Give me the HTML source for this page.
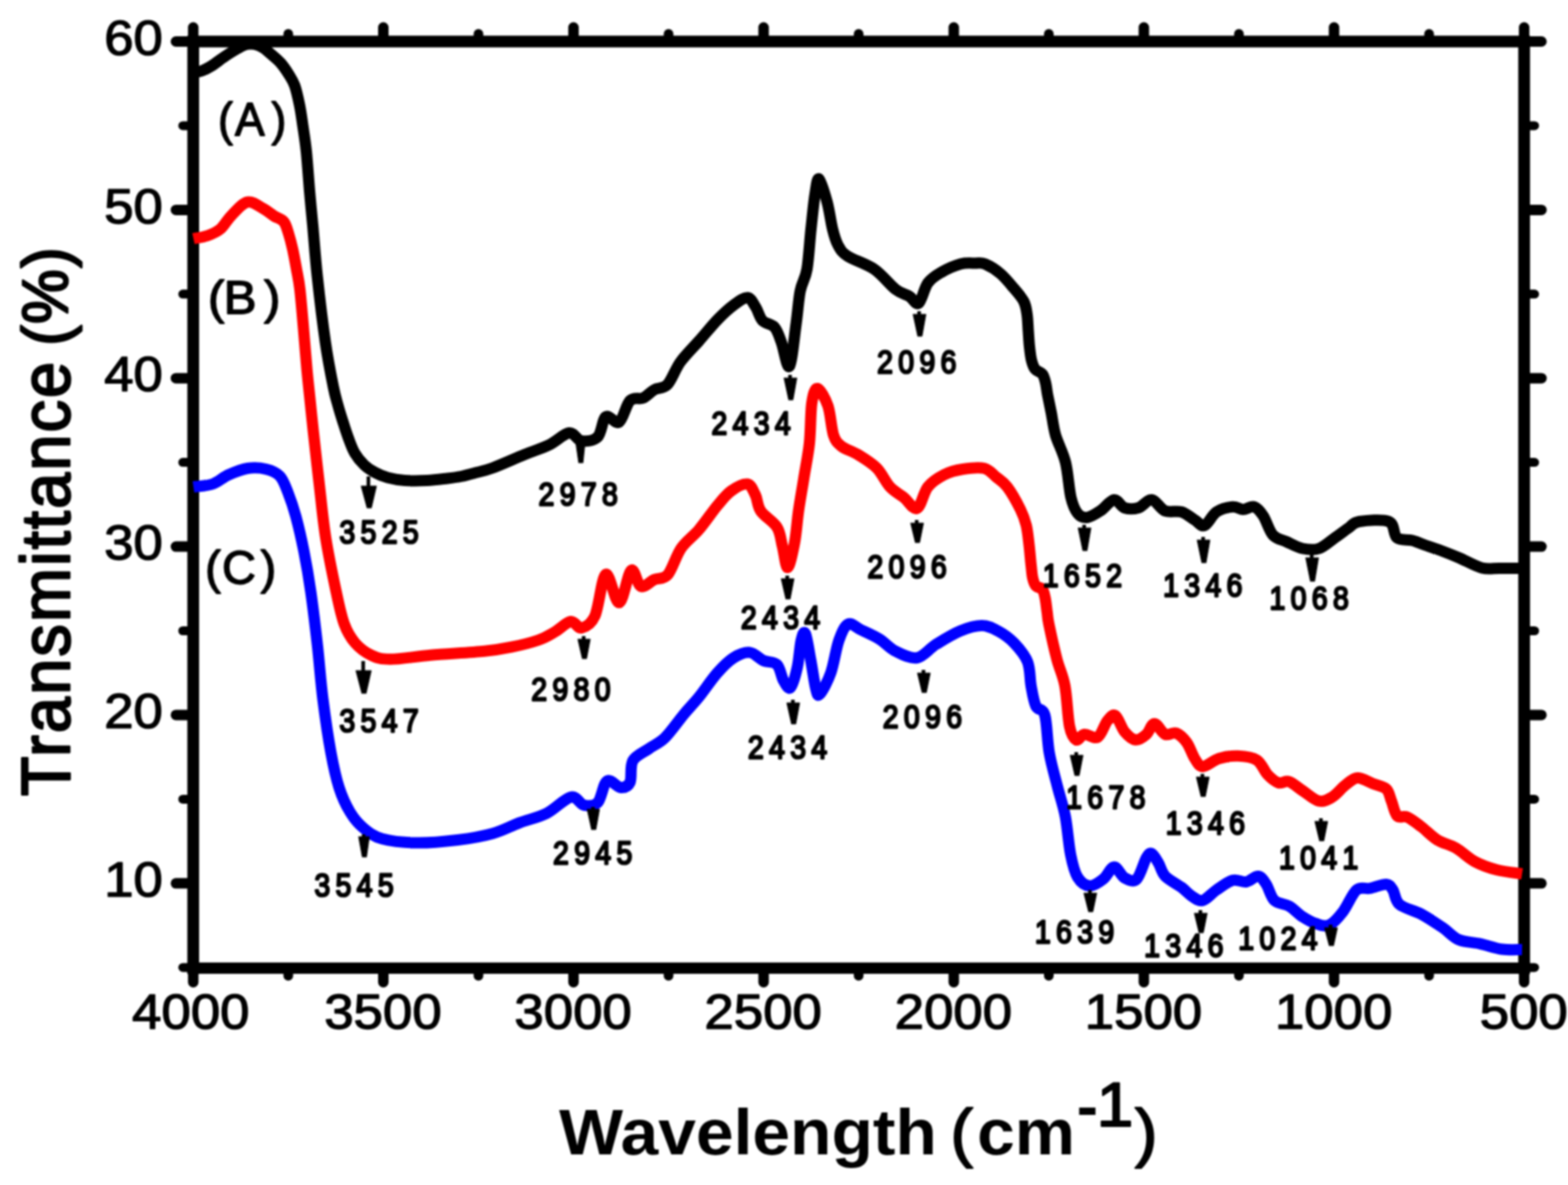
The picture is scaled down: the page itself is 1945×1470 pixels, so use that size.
<!DOCTYPE html>
<html lang="en"><head><meta charset="utf-8"><title>FTIR transmittance spectra</title>
<style>
html,body{margin:0;padding:0;background:#fff;}
body{width:1945px;height:1470px;overflow:hidden;}
svg{display:block;filter:blur(0.8px);}
text{font-family:"Liberation Sans",Arial,Helvetica,sans-serif;fill:#000;}
.tick{font-size:61.5px;stroke:#000;stroke-width:1.5px;stroke-linejoin:round;}
.pk{font-size:40px;font-weight:normal;letter-spacing:7.6px;stroke:#000;stroke-width:2.7px;stroke-linejoin:round;}
.lab{font-size:58px;stroke:#000;stroke-width:1.8px;stroke-linejoin:round;}
.ttl{font-size:79px;font-weight:bold;}
.thin{font-weight:normal;stroke:#000;stroke-width:2.2px;stroke-linejoin:round;}
</style></head><body>
<svg width="1945" height="1470" viewBox="0 0 1945 1470" role="img" aria-label="FTIR transmittance spectra of samples A, B and C">
<rect width="1945" height="1470" fill="#fff"/>
<g stroke="#000" fill="none" stroke-linecap="round">
<path d="M239.7 51.5V1201.0M1890.6 51.5V1201.0M239.7 51.5H1890.6" stroke-width="14.6" stroke-linecap="square"/>
<path d="M239.7 1201.0H1890.6" stroke-width="14.0" stroke-linecap="square"/>
<line x1="239.7" y1="51.5" x2="239.7" y2="34.0" stroke-width="13"/>
<line x1="239.7" y1="1201.0" x2="239.7" y2="1218.5" stroke-width="13"/>
<line x1="357.6" y1="51.5" x2="357.6" y2="42.0" stroke-width="12"/>
<line x1="357.6" y1="1201.0" x2="357.6" y2="1210.5" stroke-width="12"/>
<line x1="475.5" y1="51.5" x2="475.5" y2="34.0" stroke-width="13"/>
<line x1="475.5" y1="1201.0" x2="475.5" y2="1218.5" stroke-width="13"/>
<line x1="593.5" y1="51.5" x2="593.5" y2="42.0" stroke-width="12"/>
<line x1="593.5" y1="1201.0" x2="593.5" y2="1210.5" stroke-width="12"/>
<line x1="711.4" y1="51.5" x2="711.4" y2="34.0" stroke-width="13"/>
<line x1="711.4" y1="1201.0" x2="711.4" y2="1218.5" stroke-width="13"/>
<line x1="829.3" y1="51.5" x2="829.3" y2="42.0" stroke-width="12"/>
<line x1="829.3" y1="1201.0" x2="829.3" y2="1210.5" stroke-width="12"/>
<line x1="947.2" y1="51.5" x2="947.2" y2="34.0" stroke-width="13"/>
<line x1="947.2" y1="1201.0" x2="947.2" y2="1218.5" stroke-width="13"/>
<line x1="1065.1" y1="51.5" x2="1065.1" y2="42.0" stroke-width="12"/>
<line x1="1065.1" y1="1201.0" x2="1065.1" y2="1210.5" stroke-width="12"/>
<line x1="1183.1" y1="51.5" x2="1183.1" y2="34.0" stroke-width="13"/>
<line x1="1183.1" y1="1201.0" x2="1183.1" y2="1218.5" stroke-width="13"/>
<line x1="1301.0" y1="51.5" x2="1301.0" y2="42.0" stroke-width="12"/>
<line x1="1301.0" y1="1201.0" x2="1301.0" y2="1210.5" stroke-width="12"/>
<line x1="1418.9" y1="51.5" x2="1418.9" y2="34.0" stroke-width="13"/>
<line x1="1418.9" y1="1201.0" x2="1418.9" y2="1218.5" stroke-width="13"/>
<line x1="1536.8" y1="51.5" x2="1536.8" y2="42.0" stroke-width="12"/>
<line x1="1536.8" y1="1201.0" x2="1536.8" y2="1210.5" stroke-width="12"/>
<line x1="1654.8" y1="51.5" x2="1654.8" y2="34.0" stroke-width="13"/>
<line x1="1654.8" y1="1201.0" x2="1654.8" y2="1218.5" stroke-width="13"/>
<line x1="1772.7" y1="51.5" x2="1772.7" y2="42.0" stroke-width="12"/>
<line x1="1772.7" y1="1201.0" x2="1772.7" y2="1210.5" stroke-width="12"/>
<line x1="1890.6" y1="51.5" x2="1890.6" y2="34.0" stroke-width="13"/>
<line x1="1890.6" y1="1201.0" x2="1890.6" y2="1218.5" stroke-width="13"/>
<line x1="239.7" y1="51.5" x2="218.2" y2="51.5" stroke-width="13"/>
<line x1="1890.6" y1="51.5" x2="1912.1" y2="51.5" stroke-width="13"/>
<line x1="239.7" y1="155.9" x2="226.7" y2="155.9" stroke-width="11"/>
<line x1="1890.6" y1="155.9" x2="1903.6" y2="155.9" stroke-width="11"/>
<line x1="239.7" y1="260.4" x2="218.2" y2="260.4" stroke-width="13"/>
<line x1="1890.6" y1="260.4" x2="1912.1" y2="260.4" stroke-width="13"/>
<line x1="239.7" y1="364.8" x2="226.7" y2="364.8" stroke-width="11"/>
<line x1="1890.6" y1="364.8" x2="1903.6" y2="364.8" stroke-width="11"/>
<line x1="239.7" y1="469.2" x2="218.2" y2="469.2" stroke-width="13"/>
<line x1="1890.6" y1="469.2" x2="1912.1" y2="469.2" stroke-width="13"/>
<line x1="239.7" y1="573.6" x2="226.7" y2="573.6" stroke-width="11"/>
<line x1="1890.6" y1="573.6" x2="1903.6" y2="573.6" stroke-width="11"/>
<line x1="239.7" y1="678.1" x2="218.2" y2="678.1" stroke-width="13"/>
<line x1="1890.6" y1="678.1" x2="1912.1" y2="678.1" stroke-width="13"/>
<line x1="239.7" y1="782.5" x2="226.7" y2="782.5" stroke-width="11"/>
<line x1="1890.6" y1="782.5" x2="1903.6" y2="782.5" stroke-width="11"/>
<line x1="239.7" y1="886.9" x2="218.2" y2="886.9" stroke-width="13"/>
<line x1="1890.6" y1="886.9" x2="1912.1" y2="886.9" stroke-width="13"/>
<line x1="239.7" y1="991.4" x2="226.7" y2="991.4" stroke-width="11"/>
<line x1="1890.6" y1="991.4" x2="1903.6" y2="991.4" stroke-width="11"/>
<line x1="239.7" y1="1095.8" x2="218.2" y2="1095.8" stroke-width="13"/>
<line x1="1890.6" y1="1095.8" x2="1912.1" y2="1095.8" stroke-width="13"/>
<line x1="239.7" y1="1200.2" x2="226.7" y2="1200.2" stroke-width="11"/>
<line x1="1890.6" y1="1200.2" x2="1903.6" y2="1200.2" stroke-width="11"/>
</g>
<g fill="none" stroke-width="14.0" stroke-linejoin="round" stroke-linecap="butt">
<path stroke="#0000ff" d="M240.0 604.0C243.9 603.4 256.2 603.0 263.5 600.5C270.8 598.0 276.2 592.2 283.5 589.0C290.8 585.8 299.2 582.2 307.0 581.0C314.8 579.8 323.3 580.4 330.0 582.0C336.7 583.6 342.5 585.8 347.0 590.5C351.5 595.2 353.7 602.1 357.0 610.5C360.3 618.9 363.7 628.4 367.0 640.6C370.3 652.9 373.9 668.4 377.0 684.0C380.1 699.6 382.7 714.5 385.5 734.0C388.3 753.5 391.3 778.8 393.8 801.0C396.3 823.2 397.7 844.9 400.5 867.0C403.3 889.1 407.1 915.4 410.5 933.7C413.9 952.0 416.7 964.8 420.6 977.0C424.5 989.2 429.0 998.7 434.0 1007.0C439.0 1015.3 444.0 1021.4 450.7 1027.0C457.4 1032.6 462.9 1037.5 474.0 1040.6C485.1 1043.7 501.9 1045.4 517.5 1045.6C533.1 1045.8 552.0 1043.9 567.6 1042.0C583.2 1040.1 598.2 1037.6 611.0 1034.0C623.8 1030.4 633.3 1024.8 644.5 1020.6C655.7 1016.4 667.4 1014.3 678.0 1009.0C688.6 1003.7 700.2 990.5 708.0 988.8C715.8 987.1 719.1 997.8 724.7 998.9C730.3 1000.0 736.8 1000.5 741.5 995.5C746.2 990.5 748.2 971.9 753.0 968.8C757.8 965.7 765.2 976.7 770.0 977.0C774.8 977.3 779.0 976.0 781.5 970.5C784.0 965.0 781.1 950.7 785.0 943.7C788.9 936.7 798.3 933.5 805.0 928.7C811.7 923.9 817.8 922.1 825.0 915.0C832.2 907.9 841.4 894.4 848.4 886.0C855.4 877.6 860.1 873.2 867.0 864.6C873.9 856.0 882.8 842.6 890.0 834.5C897.2 826.4 903.3 820.2 910.0 816.0C916.7 811.8 923.8 808.8 930.0 809.4C936.2 810.0 941.4 817.0 947.0 819.5C952.6 822.0 959.6 820.3 963.8 824.5C968.0 828.7 969.2 839.8 972.0 844.5C974.8 849.2 977.7 855.8 980.5 853.0C983.3 850.2 986.8 837.6 989.0 827.8C991.2 818.0 992.1 801.4 993.8 794.4C995.5 787.4 997.0 782.1 999.0 786.0C1001.0 789.9 1003.3 806.4 1005.5 817.8C1007.7 829.2 1010.1 847.3 1012.0 854.5C1013.9 861.7 1013.9 864.3 1017.0 861.0C1020.1 857.7 1026.7 845.6 1030.6 834.5C1034.5 823.4 1037.0 804.4 1040.6 794.4C1044.2 784.4 1047.5 776.5 1052.0 774.3C1056.5 772.1 1060.9 777.9 1067.4 781.0C1073.9 784.1 1083.6 788.2 1090.8 792.7C1098.0 797.2 1103.0 803.9 1110.8 807.8C1118.6 811.7 1129.2 817.4 1137.6 816.0C1146.0 814.6 1152.1 804.9 1161.0 799.4C1169.9 793.9 1181.5 786.6 1191.0 782.7C1200.5 778.8 1210.0 776.0 1217.8 776.0C1225.6 776.0 1231.1 779.1 1237.8 782.7C1244.5 786.3 1251.8 791.3 1257.9 797.7C1264.0 804.1 1271.1 812.1 1274.6 821.0C1278.1 829.9 1277.3 841.8 1279.0 851.0C1280.7 860.2 1282.2 870.0 1285.0 876.0C1287.8 882.0 1293.2 877.4 1296.0 887.0C1298.8 896.6 1298.9 918.9 1301.5 933.6C1304.1 948.3 1308.2 961.8 1311.5 975.0C1314.8 988.2 1318.8 998.8 1321.5 1013.0C1324.2 1027.2 1325.5 1047.5 1328.0 1060.0C1330.5 1072.5 1332.6 1081.5 1336.6 1088.0C1340.5 1094.5 1346.4 1098.6 1351.7 1099.0C1357.0 1099.4 1363.5 1094.5 1368.5 1090.6C1373.5 1086.7 1377.6 1075.9 1382.0 1075.6C1386.4 1075.3 1390.3 1086.5 1395.0 1089.0C1399.7 1091.5 1405.5 1094.8 1410.0 1090.6C1414.5 1086.4 1418.9 1069.3 1422.0 1064.0C1425.1 1058.7 1426.2 1057.9 1428.7 1059.0C1431.2 1060.1 1434.2 1065.9 1437.0 1070.6C1439.8 1075.3 1440.7 1082.0 1445.4 1087.0C1450.2 1092.0 1459.9 1096.5 1465.5 1100.7C1471.1 1104.9 1474.4 1109.3 1478.8 1112.0C1483.2 1114.7 1487.0 1118.3 1492.0 1117.0C1497.0 1115.7 1502.8 1108.2 1509.0 1104.0C1515.2 1099.8 1522.9 1093.7 1529.0 1092.0C1535.1 1090.3 1540.4 1094.8 1545.7 1094.0C1551.0 1093.2 1556.5 1086.5 1560.7 1087.0C1564.9 1087.5 1567.4 1092.0 1570.7 1097.0C1574.0 1102.0 1576.1 1112.5 1580.8 1117.0C1585.5 1121.5 1593.1 1120.6 1599.0 1124.0C1604.9 1127.4 1610.4 1133.8 1616.0 1137.4C1621.6 1141.0 1627.1 1144.1 1632.6 1145.8C1638.1 1147.5 1643.4 1150.0 1649.0 1147.5C1654.6 1145.0 1660.4 1138.0 1666.0 1130.7C1671.6 1123.5 1677.1 1108.8 1682.7 1104.0C1688.3 1099.2 1693.3 1103.2 1699.4 1102.0C1705.5 1100.8 1714.8 1096.7 1719.5 1097.0C1724.2 1097.3 1725.0 1099.8 1727.8 1104.0C1730.5 1108.2 1730.1 1117.0 1736.0 1122.0C1741.9 1127.0 1754.1 1129.2 1763.0 1134.0C1771.9 1138.8 1781.8 1145.5 1789.6 1150.8C1797.4 1156.1 1801.9 1162.5 1809.7 1165.8C1817.5 1169.1 1827.5 1168.8 1836.4 1170.8C1845.3 1172.8 1854.4 1176.3 1863.0 1177.5C1871.6 1178.7 1883.8 1177.9 1888.0 1178.0"/>
<path stroke="#ff0000" d="M240.0 296.0C242.8 295.4 251.4 294.5 257.0 292.5C262.6 290.5 268.5 288.2 273.5 284.0C278.5 279.8 281.4 272.9 287.0 267.4C292.6 261.8 300.3 252.1 307.0 250.7C313.7 249.3 321.5 256.1 327.0 259.0C332.5 261.9 335.8 265.3 340.0 268.0C344.2 270.7 349.0 271.3 352.0 275.0C355.0 278.7 356.2 284.3 358.0 290.0C359.8 295.7 361.3 301.5 363.0 309.0C364.7 316.5 366.5 326.7 368.0 335.0C369.5 343.3 370.6 346.8 372.0 359.0C373.4 371.2 375.1 391.7 376.5 408.0C377.9 424.3 379.2 441.7 380.6 457.0C382.0 472.3 383.7 487.2 385.0 500.0C386.3 512.8 386.7 517.0 388.5 533.7C390.3 550.5 393.4 578.3 396.0 600.5C398.6 622.7 400.5 644.8 404.0 667.0C407.5 689.2 413.2 716.2 417.0 734.0C420.8 751.8 423.1 763.4 427.0 774.0C430.9 784.6 435.0 791.2 440.6 797.7C446.2 804.2 453.5 809.4 460.7 812.8C467.9 816.1 471.8 817.8 484.0 817.8C496.2 817.8 514.5 814.5 534.0 812.8C553.5 811.1 584.2 809.5 601.0 807.8C617.8 806.1 623.3 805.0 634.5 802.7C645.7 800.4 659.1 797.1 668.0 794.0C676.9 790.9 681.3 787.8 688.0 784.0C694.7 780.2 702.4 771.8 708.0 771.0C713.6 770.2 716.4 780.2 721.4 779.0C726.4 777.8 733.0 775.1 738.0 764.0C743.0 752.9 746.5 715.2 751.5 712.5C756.5 709.8 762.8 748.4 768.0 747.6C773.2 746.8 778.5 710.9 783.0 707.5C787.5 704.1 790.2 725.6 795.0 727.5C799.8 729.4 806.1 721.4 811.6 719.0C817.1 716.6 822.7 719.5 828.3 713.0C833.9 706.5 838.5 689.3 845.0 680.0C851.5 670.7 859.5 665.8 867.0 657.0C874.5 648.2 883.3 635.0 890.0 627.0C896.7 619.0 900.8 613.4 907.0 609.0C913.2 604.6 922.0 599.7 927.0 600.5C932.0 601.3 934.2 608.4 937.0 614.0C939.8 619.6 939.2 627.3 943.7 634.0C948.2 640.7 959.3 646.8 963.8 654.0C968.3 661.2 968.3 669.1 970.5 677.4C972.7 685.7 974.5 704.6 977.0 704.0C979.5 703.4 983.2 685.7 985.5 674.0C987.8 662.3 988.6 647.4 990.5 634.0C992.4 620.6 994.8 607.8 997.0 593.8C999.2 579.8 1002.3 565.6 1004.0 550.0C1005.7 534.4 1005.3 511.3 1007.0 500.0C1008.7 488.7 1010.7 481.4 1014.0 482.0C1017.3 482.6 1023.7 493.9 1027.0 503.6C1030.3 513.3 1031.2 531.6 1034.0 540.0C1036.8 548.4 1039.0 549.7 1044.0 553.7C1049.0 557.7 1056.8 559.3 1064.0 563.8C1071.2 568.3 1080.7 573.8 1087.4 580.5C1094.1 587.2 1098.4 597.9 1104.0 604.0C1109.6 610.1 1115.4 612.6 1121.0 617.0C1126.6 621.4 1132.6 632.8 1137.6 630.6C1142.6 628.4 1145.4 610.9 1151.0 604.0C1156.6 597.1 1163.8 592.7 1171.0 589.0C1178.2 585.3 1186.1 583.3 1194.4 582.0C1202.7 580.7 1214.1 579.3 1221.0 581.0C1227.9 582.7 1231.3 588.2 1236.0 592.0C1240.7 595.8 1244.4 597.3 1249.4 604.0C1254.4 610.7 1261.9 624.1 1265.8 632.0C1269.7 639.9 1271.2 644.3 1273.0 651.6C1274.8 658.9 1275.5 667.8 1276.5 676.0C1277.5 684.2 1278.2 694.2 1279.0 701.0C1279.8 707.8 1280.0 712.7 1281.0 717.0C1282.0 721.3 1283.0 724.7 1285.0 727.0C1287.0 729.3 1291.1 728.5 1293.0 731.0C1294.9 733.5 1295.5 737.2 1296.5 742.0C1297.5 746.8 1298.2 754.7 1299.0 760.0C1299.8 765.3 1299.0 764.4 1301.0 774.0C1303.0 783.6 1307.7 805.0 1311.0 817.8C1314.3 830.6 1318.4 837.1 1321.0 851.0C1323.6 864.9 1324.4 889.9 1326.7 901.0C1329.0 912.1 1332.0 916.1 1335.0 917.8C1338.0 919.5 1340.5 911.6 1345.0 911.0C1349.5 910.4 1357.0 917.2 1361.8 914.4C1366.5 911.6 1369.9 898.8 1373.5 894.4C1377.1 890.0 1380.0 885.5 1383.6 887.7C1387.2 889.9 1390.8 902.7 1395.0 907.7C1399.2 912.7 1404.1 917.2 1408.6 917.8C1413.1 918.3 1418.1 914.4 1422.0 911.0C1425.9 907.6 1428.1 897.7 1432.0 897.7C1435.9 897.7 1440.9 909.0 1445.4 911.0C1449.9 913.0 1454.4 907.7 1458.8 909.4C1463.2 911.1 1468.1 915.7 1472.0 921.0C1475.9 926.3 1478.7 936.0 1482.0 941.0C1485.3 946.0 1487.0 951.0 1492.0 951.0C1497.0 951.0 1504.7 943.2 1512.0 941.0C1519.3 938.8 1527.8 937.5 1535.6 937.8C1543.4 938.1 1552.9 938.9 1559.0 942.8C1565.1 946.7 1567.9 956.3 1572.4 961.0C1576.9 965.7 1581.4 969.6 1585.8 971.0C1590.2 972.4 1594.0 967.9 1599.0 969.6C1604.0 971.3 1609.8 977.0 1616.0 981.0C1622.2 985.0 1629.9 992.4 1636.0 993.7C1642.1 995.0 1647.1 992.0 1652.6 988.7C1658.1 985.4 1663.8 977.7 1669.0 973.7C1674.2 969.8 1678.4 965.3 1684.0 965.0C1689.6 964.7 1696.8 969.7 1702.7 972.0C1708.6 974.3 1715.6 975.1 1719.5 978.7C1723.4 982.3 1723.8 988.2 1726.0 993.7C1728.2 999.2 1729.7 1008.6 1733.0 1012.0C1736.3 1015.4 1741.0 1011.5 1746.0 1013.8C1751.0 1016.0 1756.8 1020.8 1763.0 1025.5C1769.2 1030.2 1775.8 1037.6 1783.0 1042.0C1790.2 1046.4 1798.2 1047.5 1806.0 1052.0C1813.8 1056.5 1821.4 1064.5 1829.8 1069.0C1838.2 1073.5 1846.8 1076.5 1856.5 1079.0C1866.2 1081.5 1882.8 1083.2 1888.0 1084.0"/>
<path stroke="#000000" d="M240.0 90.0C241.7 89.7 246.3 89.3 250.0 88.0C253.7 86.7 257.2 85.0 262.0 82.0C266.8 79.0 273.5 73.7 279.0 70.0C284.5 66.3 290.5 62.5 295.0 60.0C299.5 57.5 302.5 55.8 306.0 55.0C309.5 54.2 312.7 54.3 316.0 55.0C319.3 55.7 322.7 57.0 326.0 59.0C329.3 61.0 332.3 63.8 336.0 67.0C339.7 70.2 344.3 73.8 348.0 78.0C351.7 82.2 355.1 87.3 358.0 92.0C360.9 96.7 363.2 99.7 365.5 106.0C367.8 112.3 369.8 121.8 371.5 130.0C373.2 138.2 374.1 145.3 375.5 155.0C376.9 164.7 378.6 174.3 380.0 188.0C381.4 201.7 382.7 221.7 384.0 237.0C385.3 252.3 386.4 262.5 388.0 280.0C389.6 297.5 390.9 317.9 393.5 342.0C396.1 366.1 400.3 401.5 403.6 424.5C406.9 447.5 410.9 467.1 413.5 480.0C416.1 492.9 417.1 495.0 419.0 502.0C420.9 509.0 422.8 515.2 425.0 522.0C427.2 528.8 429.5 536.3 432.0 543.0C434.5 549.7 436.7 556.3 440.0 562.0C443.3 567.7 447.8 573.0 452.0 577.0C456.2 581.0 460.2 583.4 465.0 586.0C469.8 588.6 474.8 590.9 481.0 592.6C487.2 594.3 493.8 595.4 502.0 596.0C510.2 596.6 521.2 596.4 530.0 596.0C538.8 595.6 548.0 594.3 555.0 593.5C562.0 592.7 566.5 592.1 572.0 591.0C577.5 589.9 581.5 588.8 588.0 587.0C594.5 585.2 600.5 584.4 611.0 580.5C621.5 576.6 639.3 568.5 651.0 563.8C662.7 559.0 671.8 556.5 681.0 552.0C690.2 547.5 699.3 537.8 706.0 537.0C712.7 536.2 715.5 546.2 721.4 547.0C727.3 547.8 736.4 547.0 741.4 542.0C746.4 537.0 747.1 520.1 751.5 517.0C755.9 513.9 763.0 526.9 768.0 523.6C773.0 520.3 776.5 502.0 781.5 497.0C786.5 492.0 793.0 495.9 798.0 493.6C803.0 491.4 806.6 486.3 811.6 483.5C816.6 480.7 822.6 482.8 828.0 477.0C833.4 471.2 837.5 458.0 844.0 449.0C850.5 440.0 859.2 431.8 867.0 423.0C874.8 414.2 883.3 403.5 890.6 396.0C897.9 388.5 904.6 382.4 910.7 378.0C916.8 373.6 923.0 368.8 927.4 369.3C931.8 369.8 934.3 376.3 937.4 381.0C940.5 385.7 941.9 393.5 945.8 397.7C949.7 401.9 956.9 401.5 960.8 406.0C964.7 410.5 966.1 416.4 969.2 424.5C972.3 432.6 976.1 458.4 979.2 454.5C982.3 450.6 985.4 416.6 987.6 401.0C989.8 385.4 990.4 372.2 992.6 361.0C994.8 349.8 998.8 346.8 1001.0 334.0C1003.2 321.2 1004.3 299.6 1006.0 284.0C1007.7 268.4 1009.3 250.9 1011.0 240.6C1012.7 230.3 1013.5 220.3 1016.0 222.0C1018.5 223.7 1023.2 240.4 1026.0 250.7C1028.8 261.0 1030.5 275.1 1032.7 284.0C1034.9 292.9 1036.4 298.4 1039.4 304.0C1042.5 309.6 1043.5 312.5 1051.0 317.5C1058.5 322.5 1074.5 327.1 1084.5 334.0C1094.5 340.9 1103.8 353.4 1111.0 359.0C1118.2 364.6 1123.2 364.8 1128.0 367.6C1132.8 370.4 1135.8 378.8 1139.6 376.0C1143.4 373.2 1146.3 357.4 1151.0 351.0C1155.7 344.6 1161.3 341.5 1168.0 337.6C1174.7 333.7 1184.4 329.4 1191.4 327.5C1198.4 325.6 1204.9 326.5 1210.0 326.5C1215.1 326.5 1216.8 325.3 1222.0 327.5C1227.2 329.7 1235.1 334.5 1241.0 339.5C1246.9 344.5 1252.8 351.9 1257.6 357.6C1262.4 363.4 1267.3 368.6 1270.0 374.0C1272.7 379.4 1273.1 384.0 1274.0 390.0C1274.9 396.0 1275.0 403.3 1275.5 410.0C1276.0 416.7 1276.3 423.8 1277.0 430.0C1277.7 436.2 1278.3 442.3 1279.5 447.0C1280.7 451.7 1281.8 455.2 1284.0 458.0C1286.2 460.8 1290.8 461.2 1293.0 464.0C1295.2 466.8 1295.9 470.7 1297.0 475.0C1298.1 479.3 1298.3 483.8 1299.5 490.0C1300.7 496.2 1302.3 503.7 1304.0 512.0C1305.7 520.3 1306.5 529.8 1309.4 540.0C1312.4 550.2 1318.5 560.7 1321.7 573.5C1324.9 586.3 1325.9 606.4 1328.4 617.0C1330.9 627.6 1333.5 632.8 1336.8 637.0C1340.1 641.2 1343.8 642.5 1348.5 642.0C1353.2 641.5 1359.4 637.4 1365.0 633.7C1370.6 630.0 1377.0 620.6 1382.0 620.0C1387.0 619.4 1390.0 628.3 1395.0 630.0C1400.0 631.7 1406.4 631.7 1412.0 630.0C1417.6 628.3 1423.2 619.4 1428.7 620.0C1434.2 620.6 1438.9 631.2 1445.0 633.7C1451.1 636.2 1459.3 633.1 1465.5 635.0C1471.7 636.9 1477.2 642.2 1482.0 645.0C1486.8 647.8 1489.5 653.7 1494.0 652.0C1498.5 650.3 1503.2 638.9 1509.0 635.0C1514.8 631.1 1523.5 629.2 1529.0 628.7C1534.5 628.2 1537.5 632.0 1542.0 632.0C1546.5 632.0 1551.5 627.4 1555.7 628.7C1559.9 630.0 1563.1 634.1 1567.0 640.0C1570.9 645.9 1574.2 658.5 1579.0 663.8C1583.8 669.1 1589.6 669.2 1595.8 672.0C1602.0 674.8 1609.3 679.1 1616.0 680.5C1622.7 681.9 1629.3 682.8 1636.0 680.5C1642.7 678.2 1649.9 671.2 1656.0 667.0C1662.1 662.8 1667.7 658.3 1672.7 655.0C1677.7 651.7 1677.7 648.3 1686.0 647.0C1694.3 645.7 1715.0 643.7 1722.8 647.0C1730.6 650.3 1727.9 663.1 1732.8 667.0C1737.7 670.9 1745.8 668.8 1752.0 670.5C1758.2 672.2 1763.7 674.8 1770.0 677.0C1776.3 679.2 1783.3 681.5 1790.0 684.0C1796.7 686.5 1802.0 688.6 1810.0 692.0C1818.0 695.4 1829.7 702.3 1838.0 704.5C1846.3 706.7 1851.7 704.9 1860.0 705.0C1868.3 705.1 1883.3 705.0 1888.0 705.0"/>
</g>
<g>
<path d="M457.0 591.0 V605.0" stroke="#000" stroke-width="4.5" fill="none"/><path d="M448.2 603.0 H466.8 L460.5 630.0 H455.5 Z" fill="#000" stroke="#000" stroke-width="1.2" stroke-linejoin="round"/>
<path d="M719.5 547.0 V552.0" stroke="#000" stroke-width="4.5" fill="none"/><path d="M714.5 550.0 H725.5 L723.0 574.0 H718.0 Z" fill="#000" stroke="#000" stroke-width="1.2" stroke-linejoin="round"/>
<path d="M980.0 465.0 V471.0" stroke="#000" stroke-width="4.5" fill="none"/><path d="M972.7 469.0 H988.3 L983.5 496.0 H978.5 Z" fill="#000" stroke="#000" stroke-width="1.2" stroke-linejoin="round"/>
<path d="M1140.1 386.0 V392.0" stroke="#000" stroke-width="4.5" fill="none"/><path d="M1132.8 390.0 H1148.4 L1143.6 417.0 H1138.6 Z" fill="#000" stroke="#000" stroke-width="1.2" stroke-linejoin="round"/>
<path d="M1344.8 651.0 V657.0" stroke="#000" stroke-width="4.5" fill="none"/><path d="M1337.5 655.0 H1353.1 L1348.3 683.0 H1343.3 Z" fill="#000" stroke="#000" stroke-width="1.2" stroke-linejoin="round"/>
<path d="M1492.4 666.0 V672.0" stroke="#000" stroke-width="4.5" fill="none"/><path d="M1485.1 670.0 H1500.7 L1495.9 698.0 H1490.9 Z" fill="#000" stroke="#000" stroke-width="1.2" stroke-linejoin="round"/>
<path d="M1627.1 688.0 V694.0" stroke="#000" stroke-width="4.5" fill="none"/><path d="M1619.8 692.0 H1635.4 L1630.6 721.0 H1625.6 Z" fill="#000" stroke="#000" stroke-width="1.2" stroke-linejoin="round"/>
<path d="M450.5 820.0 V834.0" stroke="#000" stroke-width="4.5" fill="none"/><path d="M441.7 832.0 H460.3 L454.0 860.0 H449.0 Z" fill="#000" stroke="#000" stroke-width="1.2" stroke-linejoin="round"/>
<path d="M724.0 789.0 V795.0" stroke="#000" stroke-width="4.5" fill="none"/><path d="M717.0 793.0 H732.0 L727.5 817.0 H722.5 Z" fill="#000" stroke="#000" stroke-width="1.2" stroke-linejoin="round"/>
<path d="M976.5 714.0 V720.0" stroke="#000" stroke-width="4.5" fill="none"/><path d="M969.2 718.0 H984.8 L980.0 743.0 H975.0 Z" fill="#000" stroke="#000" stroke-width="1.2" stroke-linejoin="round"/>
<path d="M1137.1 645.0 V651.0" stroke="#000" stroke-width="4.5" fill="none"/><path d="M1129.8 649.0 H1145.4 L1140.6 673.0 H1135.6 Z" fill="#000" stroke="#000" stroke-width="1.2" stroke-linejoin="round"/>
<path d="M1335.0 933.0 V939.0" stroke="#000" stroke-width="4.5" fill="none"/><path d="M1327.7 937.0 H1343.3 L1338.5 962.0 H1333.5 Z" fill="#000" stroke="#000" stroke-width="1.2" stroke-linejoin="round"/>
<path d="M1491.5 960.0 V966.0" stroke="#000" stroke-width="4.5" fill="none"/><path d="M1484.2 964.0 H1499.8 L1495.0 988.0 H1490.0 Z" fill="#000" stroke="#000" stroke-width="1.2" stroke-linejoin="round"/>
<path d="M1638.5 1015.0 V1021.0" stroke="#000" stroke-width="4.5" fill="none"/><path d="M1631.2 1019.0 H1646.8 L1642.0 1043.0 H1637.0 Z" fill="#000" stroke="#000" stroke-width="1.2" stroke-linejoin="round"/>
<path d="M451.0 1035.0 V1040.0" stroke="#000" stroke-width="4.5" fill="none"/><path d="M445.0 1038.0 H458.0 L454.5 1063.0 H449.5 Z" fill="#000" stroke="#000" stroke-width="1.2" stroke-linejoin="round"/>
<path d="M735.5 1001.0 V1006.0" stroke="#000" stroke-width="4.5" fill="none"/><path d="M728.5 1004.0 H743.5 L739.0 1029.0 H734.0 Z" fill="#000" stroke="#000" stroke-width="1.2" stroke-linejoin="round"/>
<path d="M983.5 868.0 V874.0" stroke="#000" stroke-width="4.5" fill="none"/><path d="M976.2 872.0 H991.8 L987.0 898.0 H982.0 Z" fill="#000" stroke="#000" stroke-width="1.2" stroke-linejoin="round"/>
<path d="M1145.5 831.0 V837.0" stroke="#000" stroke-width="4.5" fill="none"/><path d="M1138.2 835.0 H1153.8 L1149.0 859.0 H1144.0 Z" fill="#000" stroke="#000" stroke-width="1.2" stroke-linejoin="round"/>
<path d="M1352.0 1104.0 V1110.0" stroke="#000" stroke-width="4.5" fill="none"/><path d="M1344.7 1108.0 H1360.3 L1355.5 1131.0 H1350.5 Z" fill="#000" stroke="#000" stroke-width="1.2" stroke-linejoin="round"/>
<path d="M1489.0 1129.0 V1135.0" stroke="#000" stroke-width="4.5" fill="none"/><path d="M1481.7 1133.0 H1497.3 L1492.5 1157.0 H1487.5 Z" fill="#000" stroke="#000" stroke-width="1.2" stroke-linejoin="round"/>
<path d="M1650.5 1147.0 V1153.0" stroke="#000" stroke-width="4.5" fill="none"/><path d="M1643.2 1151.0 H1658.8 L1654.0 1173.0 H1649.0 Z" fill="#000" stroke="#000" stroke-width="1.2" stroke-linejoin="round"/>
</g>
<g class="pk">
<text transform="translate(421.0,674.0) scale(0.88,1)">3525</text>
<text transform="translate(668.0,627.0) scale(0.88,1)">2978</text>
<text transform="translate(882.5,539.0) scale(0.88,1)">2434</text>
<text transform="translate(1088.0,462.5) scale(0.88,1)">2096</text>
<text transform="translate(1293.6,728.0) scale(0.88,1)">1652</text>
<text transform="translate(1442.7,739.6) scale(0.88,1)">1346</text>
<text transform="translate(1574.7,756.0) scale(0.88,1)">1068</text>
<text transform="translate(421.0,908.0) scale(0.88,1)">3547</text>
<text transform="translate(659.0,869.0) scale(0.88,1)">2980</text>
<text transform="translate(919.0,780.0) scale(0.88,1)">2434</text>
<text transform="translate(1076.0,716.5) scale(0.88,1)">2096</text>
<text transform="translate(1322.4,1002.7) scale(0.88,1)">1678</text>
<text transform="translate(1446.0,1034.5) scale(0.88,1)">1346</text>
<text transform="translate(1586.4,1078.0) scale(0.88,1)">1041</text>
<text transform="translate(390.0,1112.0) scale(0.88,1)">3545</text>
<text transform="translate(686.0,1072.0) scale(0.88,1)">2945</text>
<text transform="translate(927.8,941.0) scale(0.88,1)">2434</text>
<text transform="translate(1095.0,902.5) scale(0.88,1)">2096</text>
<text transform="translate(1283.7,1169.8) scale(0.88,1)">1639</text>
<text transform="translate(1419.3,1186.5) scale(0.88,1)">1346</text>
<text transform="translate(1536.0,1178.0) scale(0.88,1)">1024</text>
</g>
<g class="lab">
<text transform="translate(270.4,167.5) scale(0.95,1)" x="0 22.1 69.8">(A)</text>
<text transform="translate(258.0,389.0) scale(1.05,1)" x="0 18.6 66.3">(B)</text>
<text transform="translate(254.5,724.0) scale(1.00,1)" x="0 21 68.8">(C)</text>
</g>
<g class="tick" text-anchor="middle">
<text transform="translate(236.7,1276.0) scale(1.065,1)">4000</text>
<text transform="translate(475.0,1276.0) scale(1.065,1)">3500</text>
<text transform="translate(710.9,1276.0) scale(1.065,1)">3000</text>
<text transform="translate(946.7,1276.0) scale(1.065,1)">2500</text>
<text transform="translate(1182.6,1276.0) scale(1.065,1)">2000</text>
<text transform="translate(1418.4,1276.0) scale(1.065,1)">1500</text>
<text transform="translate(1654.3,1276.0) scale(1.065,1)">1000</text>
<text transform="translate(1890.1,1276.0) scale(1.065,1)">500</text>
</g>
<g class="tick" text-anchor="end">
<text transform="translate(202.0,67.7) scale(1.065,1)">60</text>
<text transform="translate(202.0,276.6) scale(1.065,1)">50</text>
<text transform="translate(202.0,485.4) scale(1.065,1)">40</text>
<text transform="translate(202.0,694.3) scale(1.065,1)">30</text>
<text transform="translate(202.0,903.1) scale(1.065,1)">20</text>
<text transform="translate(202.0,1112.0) scale(1.065,1)">10</text>
</g>
<text style="font-size:80px;font-weight:normal;stroke:#000;stroke-width:2.7px;stroke-linejoin:round;letter-spacing:2.9px" transform="translate(86.3,987.5) rotate(-90) scale(1.0,1.06)">Transmittance <tspan x="558.7" dy="-2.0" style="font-size:76px;letter-spacing:1.8px">(%)</tspan></text>
<text class="ttl" style="font-size:80px" transform="translate(693.5,1432) scale(1.051,1)">Wavelength <tspan x="462" class="thin">(</tspan><tspan x="493.3">cm</tspan><tspan x="610.8" dy="-34.5" style="font-size:76px">-</tspan><tspan x="634.5" dy="-1" class="thin" style="font-size:78px">1</tspan><tspan x="679.5" dy="35.5" class="thin">)</tspan></text>
</svg>
</body></html>
